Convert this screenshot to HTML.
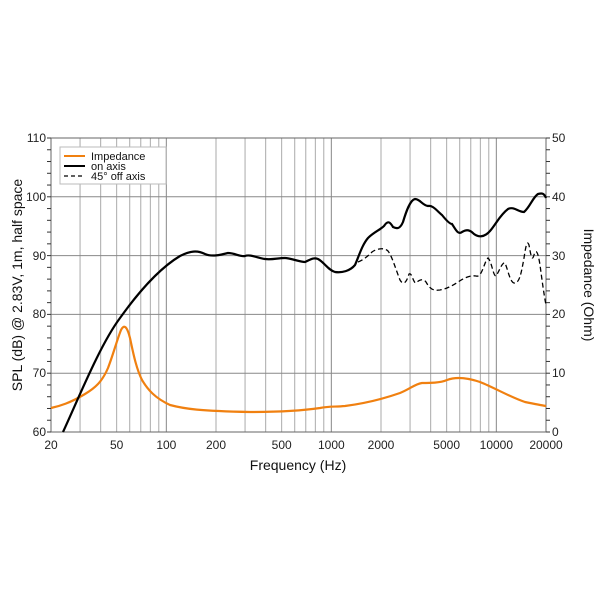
<!DOCTYPE html>
<html><head><style>body{margin:0;background:#fff}svg text{font-family:"Liberation Sans",sans-serif}</style></head>
<body>
<svg width="600" height="600" viewBox="0 0 600 600" xmlns="http://www.w3.org/2000/svg">
<g id="grid" stroke="#999" stroke-width="1"></g>
<rect x="51" y="138" width="495" height="294" fill="none" stroke="#666" stroke-width="1"/>
<g id="ticks" stroke="#333" stroke-width="1"></g>
<g font-size="12" fill="#222" text-anchor="end">
<text x="46" y="142">110</text><text x="46" y="201">100</text><text x="46" y="260">90</text><text x="46" y="318">80</text><text x="46" y="377">70</text><text x="46" y="436">60</text>
</g>
<g font-size="12" fill="#222" text-anchor="start">
<text x="552" y="142">50</text><text x="552" y="201">40</text><text x="552" y="260">30</text><text x="552" y="318">20</text><text x="552" y="377">10</text><text x="552" y="436">0</text>
</g>
<g font-size="12" fill="#222" text-anchor="middle" id="xl"></g>
<text x="298" y="470" font-size="14" text-anchor="middle" fill="#111">Frequency (Hz)</text>
<text transform="translate(22,285) rotate(-90)" font-size="14" text-anchor="middle" fill="#111">SPL (dB) @ 2.83V, 1m, half space</text>
<text transform="translate(584,285) rotate(90)" font-size="14" text-anchor="middle" fill="#111">Impedance (Ohm)</text>
<rect x="60" y="147" width="106" height="37" fill="#fff" stroke="#bbb"/>
<line x1="64" y1="156" x2="85" y2="156" stroke="#f08010" stroke-width="2"/>
<line x1="64" y1="166" x2="85" y2="166" stroke="#000" stroke-width="2"/>
<line x1="64" y1="176" x2="85" y2="176" stroke="#000" stroke-width="1.2" stroke-dasharray="4,3"/>
<g font-size="11" fill="#111"><text x="91" y="160">Impedance</text><text x="91" y="170">on axis</text><text x="91" y="180">45° off axis</text></g>
<path fill="none" stroke="#f08010" stroke-width="2.2" d="M51,408 C60,406 70,403 85,394 C95,388 102,382 108,368 C113,355 117,340 121,330 C124,324 127,326 130,338 C133,352 136,368 142,380 C148,390 155,398 170,405 C185,409 200,411 250,412 C280,412 300,411 320,408 C330,406 335,407 345,406 C360,404 380,400 400,393 C410,389 415,384 422,383 C430,383 440,383 447,380 C455,377 465,377 480,382 C495,388 510,397 525,402 C535,404 540,405 546,406"/>
<path fill="none" stroke="#000" stroke-width="2.2" d="M63,432 C80,395 100,345 120,318 C140,290 160,268 180,256 C190,251 197,250 205,254 C212,257 220,255 228,253 C235,253 240,257 245,256 C250,254 258,258 265,259 C272,260 278,258 285,258 C290,258 300,262 305,262 C310,260 313,257 318,259 C324,262 328,270 335,272 C342,273 350,271 355,265 C359,256 362,245 368,238 C374,232 380,230 384,226 C388,220 390,222 393,227 C397,229 400,229 403,222 C406,212 410,200 415,199 C420,199 422,205 428,206 C433,205 437,211 442,215 C446,220 450,224 452,224 C456,230 458,235 462,232 C467,229 470,230 474,234 C478,237 484,238 490,231 C496,224 500,215 508,209 C514,206 518,212 524,212 C530,207 533,197 538,194 C542,193 544,193 546,198"/>
<path fill="none" stroke="#000" stroke-width="1.3" stroke-dasharray="5,3" d="M358,262 C363,260 367,257 372,252 C376,249 384,247 388,251 C392,256 396,270 400,280 C403,285 406,284 409,274 C412,272 413,283 416,283 C419,280 423,278 426,282 C430,289 433,291 440,290 C446,289 452,286 458,282 C464,278 470,275 476,276 C482,278 484,262 488,258 C492,262 493,276 496,276 C500,270 502,262 505,263 C508,270 510,282 514,283 C519,284 521,275 524,258 C526,245 527,240 529,245 C531,256 532,262 534,255 C536,248 538,252 540,265 C542,280 544,295 546,305"/>
<script>
var g=document.getElementById('grid'),t=document.getElementById('ticks'),xl=document.getElementById('xl'),ns='http://www.w3.org/2000/svg';
function X(f){return 51+165*Math.log10(f/20);}
function ln(p,x1,y1,x2,y2,s){var l=document.createElementNS(ns,'line');l.setAttribute('x1',x1);l.setAttribute('y1',y1);l.setAttribute('x2',x2);l.setAttribute('y2',y2);if(s)l.setAttribute('stroke',s);p.appendChild(l);}
[10,100,1000,10000].forEach(function(d){for(var m=1;m<10;m++){var f=d*m;if(f<20||f>20000)continue;var x=X(f);if(f>20&&f<20000)ln(g,x,138,x,432,(m==1)?'#888':'#aaa');}});
for(var db=60;db<=110;db+=10){var y=432-(db-60)*5.88;ln(g,51,y,546,y,'#888');}
for(var db=60;db<=110;db+=2){var y=432-(db-60)*5.88;ln(t,47,y,51,y);}
for(var o=0;o<=50;o+=2){var y=432-o*5.88;ln(t,546,y,550,y);}
[20,50,100,200,500,1000,2000,5000,10000,20000].forEach(function(f){var e=document.createElementNS(ns,'text');e.setAttribute('x',X(f));e.setAttribute('y',449);e.textContent=f;xl.appendChild(e);});
</script>
</svg>
</body></html>
